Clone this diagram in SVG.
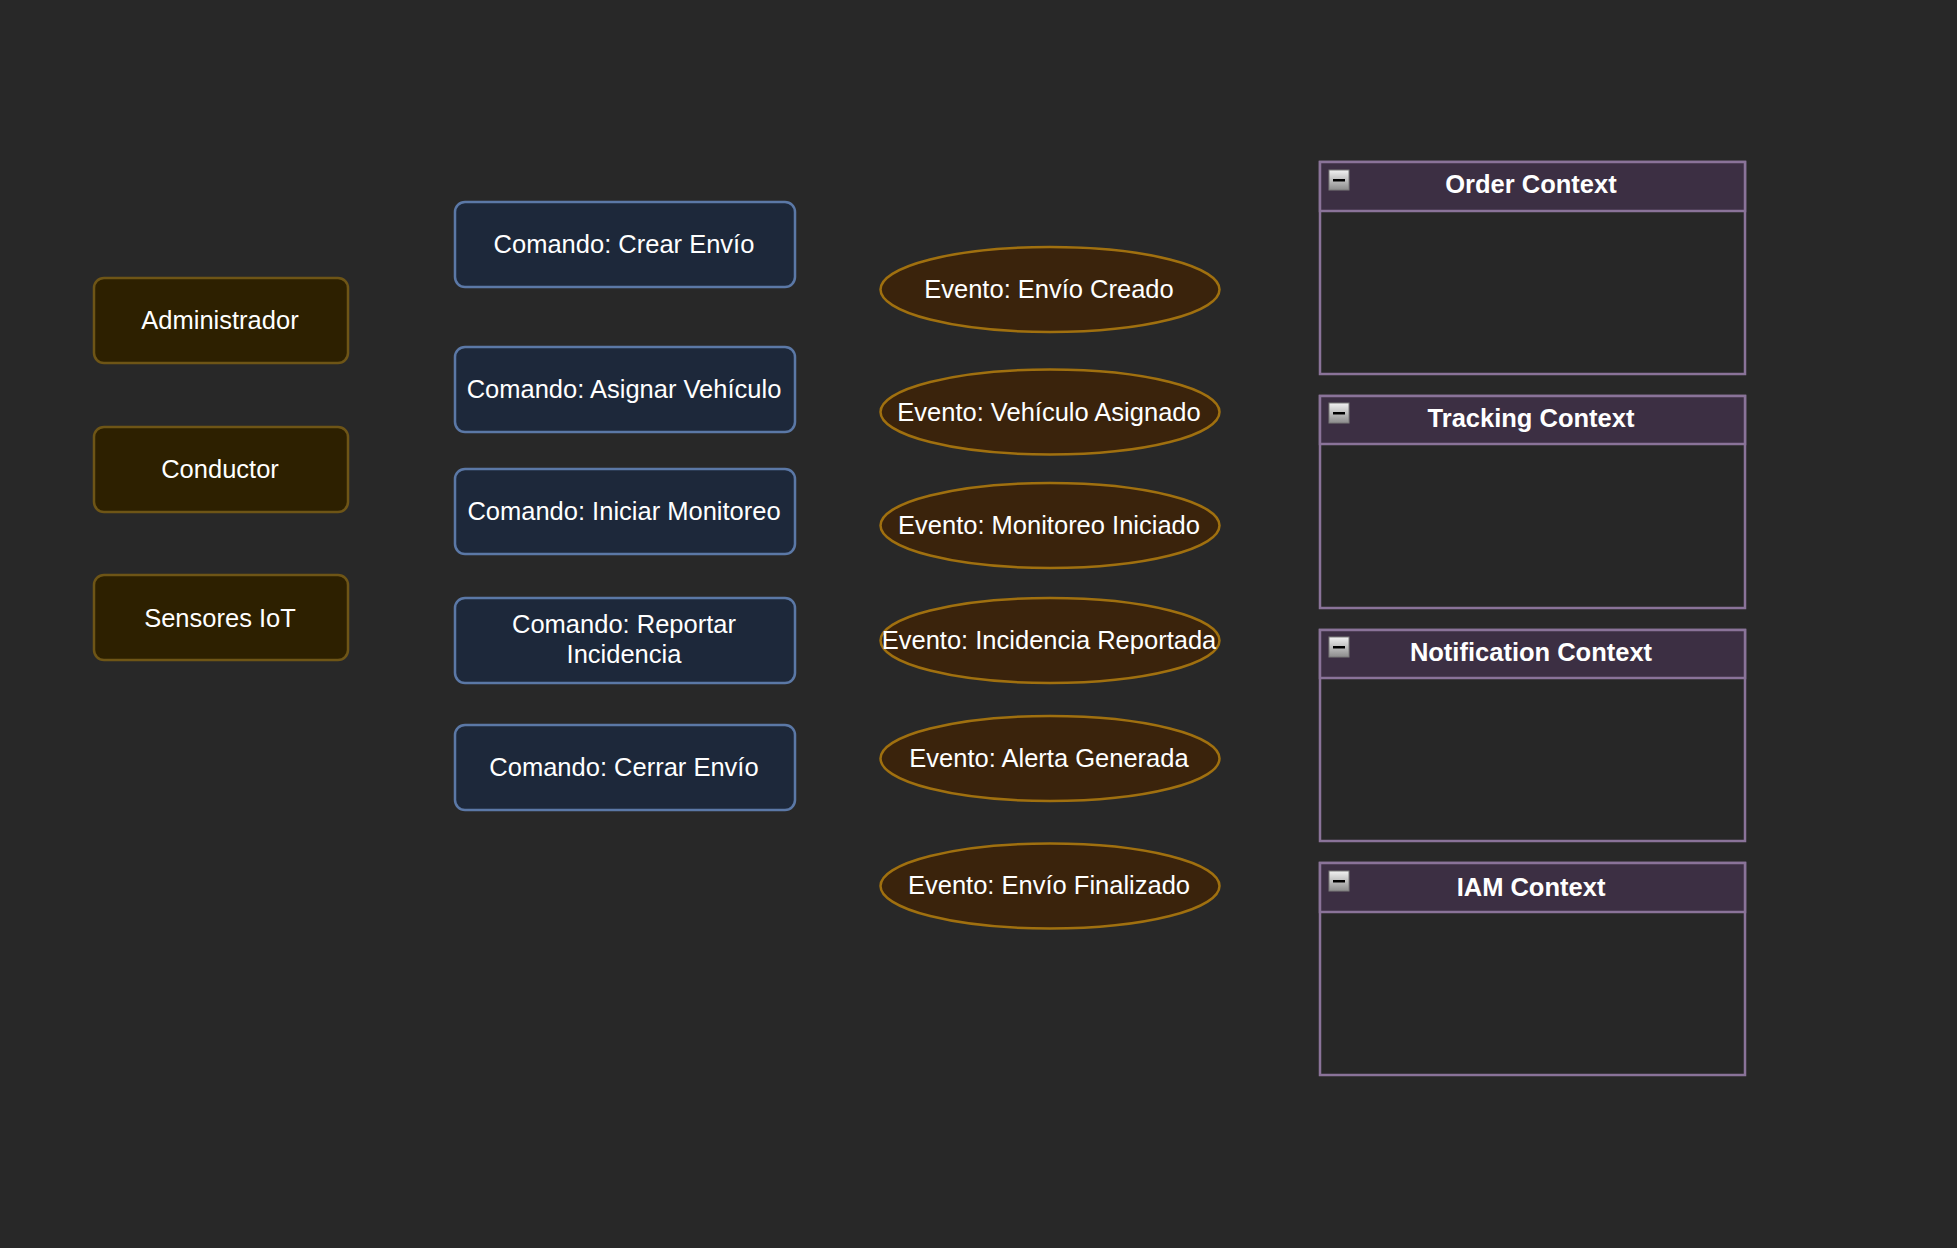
<svg xmlns="http://www.w3.org/2000/svg" width="1957" height="1248" viewBox="0 0 1957 1248">
<defs>
<linearGradient id="btn" x1="0" y1="0" x2="0" y2="1">
<stop offset="0" stop-color="#f2f2f2"/>
<stop offset="1" stop-color="#8c8c8c"/>
</linearGradient>
<style>
text{font-family:"Liberation Sans",Arial,sans-serif;font-size:25.5px;fill:#ffffff;text-anchor:middle}
.actor{fill:#2d2000;stroke:#6e5516;stroke-width:2.5}
.cmd{fill:#1d283a;stroke:#5b78a6;stroke-width:2.5}
.evt{fill:#3a230c;stroke:#a0700f;stroke-width:2.5}
.ctx{fill:#272727;stroke:#8a7399;stroke-width:2.5}
.hdr{fill:#3c2f43;stroke:#8a7399;stroke-width:2.5}
.title{font-weight:bold}
.btn{fill:url(#btn);stroke:#7a7a7a;stroke-width:1}
</style>
</defs>
<rect width="1957" height="1248" fill="#282828"/>
<g id="connectors"></g>

<g id="actor-administrador"><rect class="actor" x="94" y="278" width="254" height="85" rx="10"/><text x="220" y="329">Administrador</text></g>
<g id="actor-conductor"><rect class="actor" x="94" y="427" width="254" height="85" rx="10"/><text x="220" y="478">Conductor</text></g>
<g id="actor-sensores"><rect class="actor" x="94" y="575" width="254" height="85" rx="10"/><text x="220" y="627">Sensores IoT</text></g>

<g id="cmd-crear"><rect class="cmd" x="455" y="202" width="340" height="85" rx="10"/><text x="624" y="253">Comando: Crear Envío</text></g>
<g id="cmd-asignar"><rect class="cmd" x="455" y="347" width="340" height="85" rx="10"/><text x="624" y="398">Comando: Asignar Vehículo</text></g>
<g id="cmd-iniciar"><rect class="cmd" x="455" y="469" width="340" height="85" rx="10"/><text x="624" y="520">Comando: Iniciar Monitoreo</text></g>
<g id="cmd-reportar"><rect class="cmd" x="455" y="598" width="340" height="85" rx="10"/><text x="624" y="633">Comando: Reportar</text><text x="624" y="663">Incidencia</text></g>
<g id="cmd-cerrar"><rect class="cmd" x="455" y="725" width="340" height="85" rx="10"/><text x="624" y="776">Comando: Cerrar Envío</text></g>

<g id="evt-creado"><ellipse class="evt" cx="1050" cy="289.5" rx="169.5" ry="42.5"/><text x="1049" y="298">Evento: Envío Creado</text></g>
<g id="evt-asignado"><ellipse class="evt" cx="1050" cy="412" rx="169.5" ry="42.5"/><text x="1049" y="421">Evento: Vehículo Asignado</text></g>
<g id="evt-monitoreo"><ellipse class="evt" cx="1050" cy="525.5" rx="169.5" ry="42.5"/><text x="1049" y="534">Evento: Monitoreo Iniciado</text></g>
<g id="evt-incidencia"><ellipse class="evt" cx="1050" cy="640.5" rx="169.5" ry="42.5"/><text x="1049" y="649">Evento: Incidencia Reportada</text></g>
<g id="evt-alerta"><ellipse class="evt" cx="1050" cy="758.5" rx="169.5" ry="42.5"/><text x="1049" y="767">Evento: Alerta Generada</text></g>
<g id="evt-finalizado"><ellipse class="evt" cx="1050" cy="886" rx="169.5" ry="42.5"/><text x="1049" y="894">Evento: Envío Finalizado</text></g>

<g id="ctx-order"><rect class="ctx" x="1320" y="162" width="425" height="212"/><rect class="hdr" x="1320" y="162" width="425" height="49"/><rect class="btn" x="1329" y="170" width="20" height="20"/><rect x="1333" y="179" width="12" height="2.5" fill="#000"/><text class="title" x="1531" y="193">Order Context</text></g>
<g id="ctx-tracking"><rect class="ctx" x="1320" y="396" width="425" height="212"/><rect class="hdr" x="1320" y="396" width="425" height="48"/><rect class="btn" x="1329" y="403" width="20" height="20"/><rect x="1333" y="412" width="12" height="2.5" fill="#000"/><text class="title" x="1531" y="427">Tracking Context</text></g>
<g id="ctx-notification"><rect class="ctx" x="1320" y="630" width="425" height="211"/><rect class="hdr" x="1320" y="630" width="425" height="48"/><rect class="btn" x="1329" y="637" width="20" height="20"/><rect x="1333" y="646" width="12" height="2.5" fill="#000"/><text class="title" x="1531" y="661">Notification Context</text></g>
<g id="ctx-iam"><rect class="ctx" x="1320" y="863" width="425" height="212"/><rect class="hdr" x="1320" y="863" width="425" height="49"/><rect class="btn" x="1329" y="871" width="20" height="20"/><rect x="1333" y="880" width="12" height="2.5" fill="#000"/><text class="title" x="1531" y="896">IAM Context</text></g>
</svg>
